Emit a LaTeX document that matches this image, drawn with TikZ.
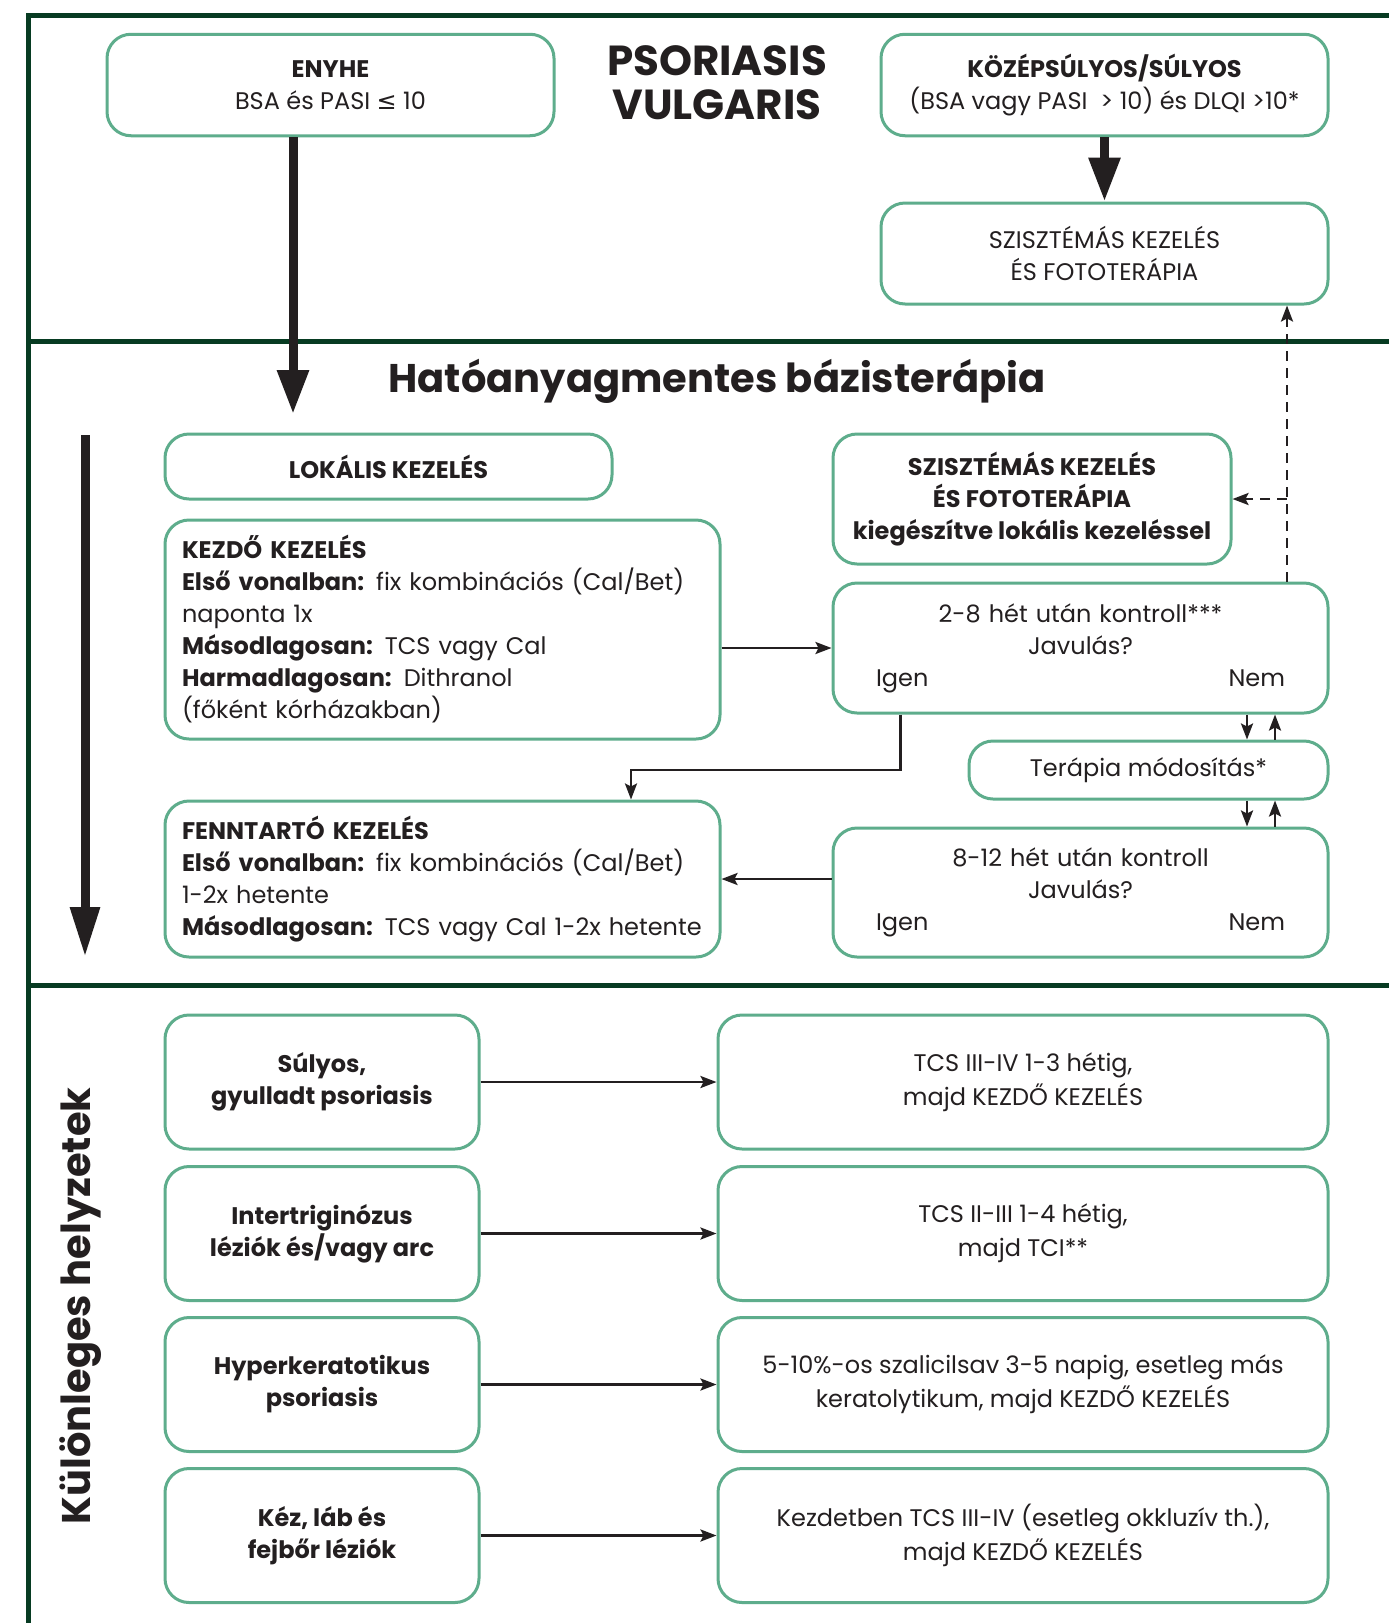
\documentclass[tikz,border=0pt]{standalone}
\usepackage{fontspec}
\setmainfont{Poppins}
\newfontfamily\djv{DejaVu Sans}
\usetikzlibrary{arrows.meta}
\definecolor{framec}{HTML}{073B22}
\definecolor{boxc}{HTML}{5EAD8C}
\definecolor{ink}{HTML}{231F20}
\newcommand\bodyfont{\fontsize{24}{32}\selectfont}
\tikzset{
  bx/.style={draw=boxc, line width=3pt, rounded corners=24pt, align=center, inner sep=0pt, text=ink, font=\bodyfont},
  frameline/.style={draw=framec, line width=5pt},
  thin/.style={draw=ink, line width=2.5pt, -{Stealth[length=16pt,width=12pt,inset=3pt]}},
  dasharrow/.style={draw=ink, line width=2.5pt, dash pattern=on 10pt off 7pt, -{Stealth[length=16pt,width=12pt,inset=3pt]}},
  thick/.style={draw=ink, line width=9pt, -{Triangle[length=44pt,width=30pt]}},
}
\begin{document}
\begin{tikzpicture}[x=1pt,y=-1pt]
\useasboundingbox (0,0) rectangle (1389,1623);
\fill[white] (0,0) rectangle (1389,1623);
% frame
\draw[frameline, line join=miter] (28,1623) -- (28,15.5) -- (1389,15.5);
\draw[frameline] (28,341) -- (1389,341);
\draw[frameline] (28,985) -- (1389,985);

% top section
\node[bx, minimum width=447pt, minimum height=101.5pt] (enyhe) at (330.5,85) {\textbf{ENYHE}\\BSA és PASI {\djv ≤} 10};
\node[bx, minimum width=447pt, minimum height=101.5pt] (kozep) at (1104.5,85) {\textbf{KÖZÉPSÚLYOS/SÚLYOS}\\(BSA vagy PASI \ > 10) és DLQI >10*};
\node[bx, minimum width=447pt, minimum height=101pt] (szt) at (1104.5,253.5) {SZISZTÉMÁS KEZELÉS\\ÉS FOTOTERÁPIA};
\node[font=\bfseries\fontsize{42}{44}\selectfont, text=ink, align=center] (title) at (717,83) {PSORIASIS\\VULGARIS};

% middle section
\node[font=\bfseries\fontsize{40}{40}\selectfont, text=ink] (hat) at (717,381) {Hatóanyagmentes bázisterápia};
\node[bx, minimum width=447pt, minimum height=65pt] (lok) at (388.5,466.5) {\textbf{LOKÁLIS KEZELÉS}};
\node[bx, minimum width=555pt, minimum height=219pt, text width=521pt, align=left] (kezdo) at (442.5,629.5) {\textbf{KEZDŐ KEZELÉS}\\\textbf{Első vonalban:} fix kombinációs (Cal/Bet)\\naponta 1x\\\textbf{Másodlagosan:} TCS vagy Cal\\\textbf{Harmadlagosan:} Dithranol\\(főként kórházakban)};
\node[bx, minimum width=555pt, minimum height=156pt, text width=521pt, align=left] (fenn) at (442.5,879) {\textbf{FENNTARTÓ KEZELÉS}\\\textbf{Első vonalban:} fix kombinációs (Cal/Bet)\\1-2x hetente\\\textbf{Másodlagosan:} TCS vagy Cal 1-2x hetente};
\node[bx, minimum width=398pt, minimum height=130pt, font=\bodyfont\bfseries] (sz2) at (1032,499) {SZISZTÉMÁS KEZELÉS\\ÉS FOTOTERÁPIA\\kiegészítve lokális kezeléssel};
\node[bx, minimum width=495pt, minimum height=130pt, text width=409pt] (k28) at (1080.5,648) {2-8 hét után kontroll***\\Javulás?\\Igen\hfill Nem};
\node[bx, minimum width=359pt, minimum height=58pt] (tera) at (1148.5,770) {Terápia módosítás*};
\node[bx, minimum width=495pt, minimum height=129pt, text width=409pt] (k812) at (1080.5,892.5) {8-12 hét után kontroll\\Javulás?\\Igen\hfill Nem};

% bottom section
\node[rotate=90, font=\bfseries\fontsize{40}{40}\selectfont, text=ink] (kh) at (81,1306) {Különleges helyzetek};
\begin{scope}[every node/.append style={bx, minimum height=134pt}]
\node[minimum width=314pt, font=\bodyfont\bfseries] (l1) at (322,1082) {Súlyos,\\gyulladt psoriasis};
\node[minimum width=314pt, font=\bodyfont\bfseries] (l2) at (322,1233.5) {Intertriginózus\\léziók és/vagy arc};
\node[minimum width=314pt, font=\bodyfont\bfseries] (l3) at (322,1384.5) {Hyperkeratotikus\\psoriasis};
\node[minimum width=314pt, font=\bodyfont\bfseries] (l4) at (322,1535.5) {Kéz, láb és\\fejbőr léziók};
\node[minimum width=610pt, font=\fontsize{24}{34}\selectfont] (r1) at (1023,1082) {TCS III-IV 1-3 hétig,\\majd KEZDŐ KEZELÉS};
\node[minimum width=610pt, font=\fontsize{24}{34}\selectfont] (r2) at (1023,1233.5) {TCS II-III 1-4 hétig,\\majd TCI**};
\node[minimum width=610pt, font=\fontsize{24}{34}\selectfont] (r3) at (1023,1384.5) {5-10\%-os szalicilsav 3-5 napig, esetleg más\\keratolytikum, majd KEZDŐ KEZELÉS};
\node[minimum width=610pt, font=\fontsize{24}{34}\selectfont] (r4) at (1023,1535.5) {Kezdetben TCS III-IV (esetleg okkluzív th.),\\majd KEZDŐ KEZELÉS};
\end{scope}

% coordinates
\coordinate (enyheTip) at (293,414);
\coordinate (la1) at (85,435);
\coordinate (la2) at (85,957);
\coordinate (dx) at (1287,499);
\coordinate (ig1) at (900.5,770);
\coordinate (ig2) at (631,770);
\coordinate (dnx) at (1247,0);
\coordinate (upx) at (1275,0);

% connectors
\draw[thick] (enyhe.south -| enyheTip) -- (enyheTip);
\draw[thick] (kozep.south) -- (szt.north);
\draw[thick, -{Triangle[length=50pt,width=28pt]}] (la1) -- (la2);
\draw[dasharrow] (dx |- k28.north) -- (dx |- szt.south);
\draw[dasharrow] (dx) -- (sz2.east);
\draw[thin] (kezdo.east |- k28.west) -- (k28.west);
\draw[thin] (ig1 |- k28.south) -- (ig1) -- (ig2) -- (ig2 |- fenn.north);
\draw[thin] (dnx |- k28.south) -- (dnx |- tera.north);
\draw[thin] (upx |- tera.north) -- (upx |- k28.south);
\draw[thin] (dnx |- tera.south) -- (dnx |- k812.north);
\draw[thin] (upx |- k812.north) -- (upx |- tera.south);
\draw[thin] (k812.west |- fenn.east) -- (fenn.east);
\draw[thin] (l1.east) -- (r1.west);
\draw[thin] (l2.east) -- (r2.west);
\draw[thin] (l3.east) -- (r3.west);
\draw[thin] (l4.east) -- (r4.west);
\end{tikzpicture}
\end{document}
